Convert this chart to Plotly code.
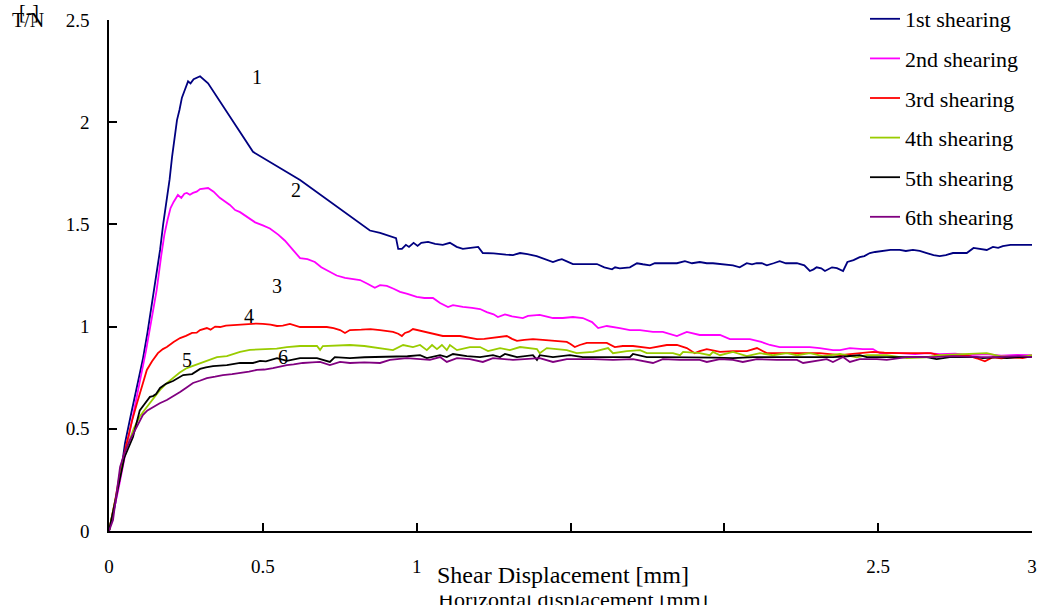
import plotly.graph_objects as go

# Shear stress ratio T/N versus shear displacement for six repeated shearings
x1 = [0, 0.02, 0.04, 0.052, 0.07, 0.09, 0.11, 0.125, 0.14, 0.152, 0.166, 0.176, 0.188, 0.197, 0.205, 0.213,
      0.221, 0.229, 0.237, 0.247, 0.257, 0.265, 0.275, 0.296, 0.322, 0.468, 0.621, 0.848, 0.881, 0.933, 0.940,
      0.952, 0.965, 0.975, 0.99, 1.003, 1.015, 1.037, 1.06, 1.085, 1.108, 1.13, 1.15, 1.175, 1.2, 1.215, 1.25,
      1.29, 1.313, 1.336, 1.36, 1.39, 1.41, 1.443, 1.46, 1.472, 1.49, 1.508, 1.55, 1.586, 1.61, 1.635, 1.645,
      1.66, 1.693, 1.716, 1.735, 1.758, 1.774, 1.81, 1.846, 1.872, 1.895, 1.92, 1.943, 1.963, 2.0, 2.028, 2.05,
      2.073, 2.09, 2.105, 2.122, 2.138, 2.16, 2.18, 2.2, 2.236, 2.26, 2.278, 2.29, 2.30, 2.315, 2.327, 2.35,
      2.366, 2.386, 2.40, 2.42, 2.44, 2.455, 2.473, 2.49, 2.515, 2.54, 2.57, 2.59, 2.613, 2.635, 2.658, 2.68,
      2.70, 2.72, 2.743, 2.765, 2.788, 2.81, 2.83, 2.853, 2.873, 2.89, 2.905, 2.93, 2.95, 3.0]
y1 = [0, 0.13, 0.30, 0.43, 0.56, 0.70, 0.84, 0.97, 1.12, 1.22, 1.375, 1.50, 1.62, 1.72, 1.83, 1.93,
      2.01, 2.06, 2.12, 2.16, 2.20, 2.19, 2.21, 2.225, 2.19, 1.855, 1.717, 1.47, 1.458, 1.433, 1.38,
      1.38, 1.40, 1.39, 1.41, 1.395, 1.41, 1.414, 1.405, 1.40, 1.41, 1.39, 1.38, 1.385, 1.39, 1.36, 1.358,
      1.352, 1.35, 1.36, 1.355, 1.345, 1.335, 1.316, 1.325, 1.33, 1.318, 1.306, 1.306, 1.306, 1.29, 1.28, 1.29,
      1.285, 1.29, 1.31, 1.305, 1.30, 1.31, 1.31, 1.31, 1.32, 1.31, 1.316, 1.31, 1.31, 1.305, 1.30, 1.29,
      1.31, 1.305, 1.31, 1.31, 1.30, 1.31, 1.32, 1.31, 1.31, 1.30, 1.272, 1.28, 1.29, 1.285, 1.272, 1.29,
      1.286, 1.272, 1.316, 1.325, 1.34, 1.345, 1.36, 1.365, 1.37, 1.375, 1.375, 1.37, 1.375, 1.37, 1.36, 1.35,
      1.345, 1.35, 1.36, 1.36, 1.36, 1.385, 1.38, 1.375, 1.39, 1.385, 1.394, 1.40, 1.40, 1.40]

x2 = [0, 0.03, 0.06, 0.09, 0.12, 0.14, 0.155, 0.17, 0.18, 0.19, 0.2, 0.21, 0.224, 0.235, 0.245, 0.253,
      0.263, 0.273, 0.285, 0.296, 0.31, 0.322, 0.34, 0.36, 0.393, 0.41, 0.426, 0.45, 0.475, 0.5, 0.523, 0.55,
      0.572, 0.595, 0.621, 0.645, 0.669, 0.69, 0.718, 0.74, 0.767, 0.79, 0.816, 0.84, 0.864, 0.881, 0.903,
      0.925, 0.946, 0.97, 1.0, 1.025, 1.053, 1.076, 1.102, 1.118, 1.15, 1.18, 1.206, 1.228, 1.25, 1.264,
      1.287, 1.31, 1.345, 1.362, 1.40, 1.42, 1.443, 1.475, 1.508, 1.54, 1.57, 1.59, 1.618, 1.66, 1.693, 1.726,
      1.768, 1.80, 1.846, 1.878, 1.92, 1.986, 2.018, 2.083, 2.12, 2.148, 2.18, 2.23, 2.278, 2.31, 2.353,
      2.376, 2.408, 2.45, 2.483, 2.506, 2.57, 2.62, 2.66, 2.7, 2.75, 2.8, 2.85, 2.9, 2.95, 3.0]
y2 = [0, 0.2, 0.43, 0.65, 0.88, 1.05, 1.18, 1.35, 1.45, 1.52, 1.58, 1.61, 1.644, 1.63, 1.65, 1.654,
      1.645, 1.654, 1.66, 1.673, 1.675, 1.678, 1.66, 1.63, 1.595, 1.57, 1.56, 1.535, 1.51, 1.495, 1.48, 1.45,
      1.42, 1.38, 1.335, 1.33, 1.316, 1.29, 1.267, 1.25, 1.238, 1.235, 1.228, 1.21, 1.19, 1.203, 1.199,
      1.185, 1.17, 1.16, 1.145, 1.14, 1.14, 1.115, 1.096, 1.105, 1.096, 1.092, 1.086, 1.071, 1.06, 1.047,
      1.06, 1.05, 1.042, 1.052, 1.057, 1.05, 1.042, 1.042, 1.047, 1.042, 1.022, 0.993, 1.003, 0.993, 0.983, 0.983,
      0.974, 0.974, 0.954, 0.974, 0.959, 0.959, 0.939, 0.939, 0.925, 0.91, 0.90, 0.90, 0.90, 0.895, 0.885,
      0.885, 0.895, 0.89, 0.89, 0.87, 0.87, 0.865, 0.87, 0.865, 0.868, 0.86, 0.865, 0.858, 0.862, 0.86]

x3 = [0, 0.02, 0.04, 0.062, 0.075, 0.09, 0.105, 0.123, 0.14, 0.159, 0.175, 0.188, 0.21, 0.231, 0.25, 0.27,
      0.285, 0.296, 0.318, 0.33, 0.345, 0.361, 0.38, 0.403, 0.43, 0.458, 0.48, 0.50, 0.525, 0.546, 0.565,
      0.588, 0.605, 0.621, 0.663, 0.708, 0.73, 0.751, 0.767, 0.783, 0.82, 0.85, 0.881, 0.923, 0.94, 0.952,
      0.962, 0.975, 0.988, 1.01, 1.033, 1.06, 1.085, 1.141, 1.17, 1.196, 1.22, 1.248, 1.27, 1.293, 1.31,
      1.326, 1.35, 1.378, 1.41, 1.443, 1.488, 1.5, 1.514, 1.53, 1.553, 1.618, 1.63, 1.644, 1.67, 1.703, 1.758,
      1.79, 1.813, 1.846, 1.878, 1.904, 1.92, 1.943, 1.986, 2.028, 2.073, 2.106, 2.138, 2.2, 2.246, 2.31,
      2.376, 2.41, 2.44, 2.483, 2.52, 2.57, 2.671, 2.71, 2.75, 2.788, 2.82, 2.847, 2.873, 2.9, 2.93, 2.97, 3.0]
y3 = [0, 0.15, 0.32, 0.46, 0.54, 0.62, 0.70, 0.788, 0.83, 0.87, 0.89, 0.90, 0.925, 0.944, 0.955, 0.969,
      0.97, 0.983, 0.993, 0.985, 1.0, 0.998, 1.005, 1.008, 1.01, 1.013, 1.015, 1.013, 1.01, 1.003, 1.005,
      1.013, 1.005, 0.998, 0.998, 0.998, 0.993, 0.983, 0.969, 0.983, 0.985, 0.988, 0.983, 0.974, 0.965, 0.954,
      0.969, 0.975, 0.988, 0.98, 0.974, 0.965, 0.954, 0.954, 0.945, 0.939, 0.94, 0.944, 0.95, 0.954, 0.94,
      0.93, 0.935, 0.939, 0.935, 0.93, 0.925, 0.915, 0.90, 0.91, 0.92, 0.92, 0.91, 0.90, 0.905, 0.905, 0.895,
      0.905, 0.91, 0.91, 0.895, 0.87, 0.88, 0.89, 0.876, 0.88, 0.88, 0.895, 0.87, 0.87, 0.87, 0.87,
      0.86, 0.865, 0.87, 0.876, 0.872, 0.87, 0.87, 0.856, 0.86, 0.86, 0.845, 0.83, 0.85, 0.845, 0.85, 0.846, 0.856]

x4 = [0, 0.02, 0.05, 0.08, 0.10, 0.123, 0.145, 0.166, 0.185, 0.208, 0.23, 0.253, 0.275, 0.296, 0.32, 0.351,
      0.383, 0.405, 0.426, 0.458, 0.485, 0.513, 0.545, 0.578, 0.621, 0.676, 0.686, 0.695, 0.74, 0.783, 0.83,
      0.881, 0.923, 0.956, 0.988, 1.011, 1.033, 1.05, 1.066, 1.082, 1.098, 1.108, 1.131, 1.173, 1.206, 1.232,
      1.271, 1.303, 1.336, 1.391, 1.40, 1.423, 1.488, 1.52, 1.573, 1.622, 1.638, 1.683, 1.726, 1.748, 1.79,
      1.833, 1.856, 1.866, 1.92, 1.953, 1.963, 1.986, 2.028, 2.073, 2.116, 2.158, 2.203, 2.236, 2.278, 2.32,
      2.376, 2.43, 2.463, 2.528, 2.593, 2.658, 2.70, 2.788, 2.853, 2.895, 2.96, 3.0]
y4 = [0, 0.15, 0.37, 0.50, 0.56, 0.607, 0.65, 0.69, 0.72, 0.748, 0.775, 0.797, 0.81, 0.822, 0.835, 0.851,
      0.856, 0.868, 0.876, 0.886, 0.887, 0.89, 0.892, 0.90, 0.905, 0.905, 0.886, 0.905, 0.908, 0.91, 0.905,
      0.895, 0.885, 0.91, 0.90, 0.91, 0.885, 0.91, 0.89, 0.91, 0.885, 0.91, 0.885, 0.90, 0.90, 0.88,
      0.895, 0.885, 0.90, 0.89, 0.87, 0.895, 0.885, 0.87, 0.876, 0.895, 0.87, 0.88, 0.885, 0.87, 0.87,
      0.87, 0.86, 0.876, 0.87, 0.86, 0.876, 0.86, 0.876, 0.856, 0.87, 0.86, 0.87, 0.86, 0.87, 0.856,
      0.866, 0.85, 0.86, 0.86, 0.846, 0.85, 0.86, 0.866, 0.87, 0.856, 0.85, 0.86]

x5 = [0, 0.02, 0.05, 0.078, 0.09, 0.10, 0.115, 0.133, 0.143, 0.153, 0.166, 0.185, 0.208, 0.225, 0.241, 0.27,
      0.296, 0.315, 0.338, 0.383, 0.426, 0.468, 0.491, 0.51, 0.546, 0.578, 0.60, 0.621, 0.676, 0.718, 0.734,
      0.783, 0.83, 0.881, 0.936, 0.97, 1.011, 1.033, 1.076, 1.098, 1.118, 1.163, 1.206, 1.248, 1.271, 1.287,
      1.326, 1.378, 1.391, 1.40, 1.443, 1.498, 1.54, 1.596, 1.638, 1.693, 1.703, 1.748, 1.80, 1.856, 1.92,
      1.97, 2.028, 2.093, 2.19, 2.278, 2.353, 2.40, 2.44, 2.463, 2.528, 2.593, 2.658, 2.69, 2.733, 2.82, 2.84,
      2.895, 2.918, 2.96, 3.0]
y5 = [0, 0.14, 0.36, 0.46, 0.53, 0.59, 0.62, 0.656, 0.66, 0.67, 0.70, 0.72, 0.734, 0.75, 0.763, 0.768,
      0.793, 0.80, 0.807, 0.812, 0.822, 0.822, 0.832, 0.83, 0.846, 0.832, 0.84, 0.846, 0.846, 0.827, 0.851,
      0.846, 0.85, 0.851, 0.851, 0.855, 0.86, 0.846, 0.86, 0.851, 0.866, 0.856, 0.851, 0.86, 0.851, 0.866,
      0.851, 0.86, 0.837, 0.86, 0.851, 0.86, 0.851, 0.851, 0.851, 0.851, 0.866, 0.851, 0.851, 0.851, 0.851,
      0.848, 0.846, 0.851, 0.851, 0.851, 0.851, 0.855, 0.86, 0.851, 0.851, 0.851, 0.851, 0.841, 0.851, 0.851, 0.846,
      0.851, 0.846, 0.851, 0.851]

x6 = [0, 0.013, 0.036, 0.05, 0.068, 0.09, 0.11, 0.125, 0.143, 0.165, 0.188, 0.21, 0.231, 0.25, 0.273, 0.295,
      0.318, 0.345, 0.37, 0.4, 0.426, 0.455, 0.481, 0.505, 0.533, 0.555, 0.578, 0.60, 0.63, 0.66, 0.686,
      0.718, 0.751, 0.783, 0.83, 0.881, 0.913, 0.968, 1.011, 1.043, 1.076, 1.098, 1.131, 1.173, 1.215, 1.248,
      1.313, 1.368, 1.40, 1.443, 1.488, 1.573, 1.638, 1.703, 1.768, 1.80, 1.856, 1.92, 1.943, 1.986, 2.028,
      2.06, 2.106, 2.171, 2.236, 2.256, 2.333, 2.353, 2.386, 2.408, 2.44, 2.496, 2.528, 2.593, 2.678, 2.743,
      2.83, 2.895, 2.96, 3.0]
y6 = [0, 0.054, 0.313, 0.38, 0.445, 0.51, 0.567, 0.59, 0.607, 0.625, 0.641, 0.66, 0.68, 0.70, 0.724, 0.735,
      0.748, 0.755, 0.763, 0.768, 0.773, 0.78, 0.788, 0.79, 0.797, 0.805, 0.812, 0.815, 0.822, 0.825, 0.827,
      0.812, 0.827, 0.822, 0.825, 0.822, 0.837, 0.846, 0.841, 0.837, 0.851, 0.827, 0.846, 0.841, 0.827, 0.846,
      0.837, 0.841, 0.846, 0.827, 0.841, 0.841, 0.837, 0.841, 0.822, 0.841, 0.837, 0.837, 0.827, 0.841, 0.837,
      0.827, 0.841, 0.837, 0.837, 0.822, 0.841, 0.827, 0.851, 0.827, 0.841, 0.841, 0.837, 0.851, 0.851, 0.856,
      0.851, 0.851, 0.856, 0.851]

series_names = ["1st shearing", "2nd shearing", "3rd shearing", "4th shearing", "5th shearing", "6th shearing"]
series_colors = ["#000080", "#FF00FF", "#FF0000", "#99CC00", "#000000", "#800080"]

# curve numbers placed next to each curve
curve_labels = ["1", "2", "3", "4", "5", "6"]
label_x = [0.481, 0.608, 0.546, 0.455, 0.254, 0.566]
label_y = [2.221, 1.668, 1.199, 1.052, 0.837, 0.851]

x_ticks = [0, 0.5, 1, 1.5, 2, 2.5, 3]
y_ticks = [0, 0.5, 1, 1.5, 2, 2.5]

SERIF = "Liberation Serif, Times New Roman, serif"
L, R, T, B = 109, 1032, 20, 531  # plot-area edges in pixels


def px_x(p):
    return (p - L) / (R - L)


def px_y(p):
    return (B - p) / (B - T)


fig = go.Figure()
for i, (xs, ys) in enumerate([(x1, y1), (x2, y2), (x3, y3), (x4, y4), (x5, y5), (x6, y6)]):
    fig.add_trace(go.Scatter(
        x=xs, y=ys, mode="lines", name=series_names[i], legendgroup=series_names[i],
        line=dict(color=series_colors[i], width=1.8),
    ))

for t, lx, ly in zip(curve_labels, label_x, label_y):
    fig.add_annotation(x=lx, y=ly, text=t, showarrow=False, xanchor="center", yanchor="middle",
                       font=dict(family=SERIF, size=20, color="#000000"))

# axis labels (overlaid titles); the white box masks the lower layer
fig.add_annotation(xref="paper", yref="paper", x=px_x(573), y=px_y(599),
                   xanchor="center", yanchor="middle",
                   text="Horizontal displacement [mm]", showarrow=False,
                   font=dict(family=SERIF, size=22, color="#000000"))
fig.add_annotation(xref="paper", yref="paper", x=px_x(582), y=px_y(575),
                   xanchor="center", yanchor="middle",
                   text="\u00a0", showarrow=False, width=305, height=40, bgcolor="#FFFFFF",
                   borderpad=0)
fig.add_annotation(xref="paper", yref="paper", x=px_x(563), y=px_y(575),
                   xanchor="center", yanchor="middle",
                   text="Shear Displacement [mm]", showarrow=False,
                   font=dict(family=SERIF, size=24, color="#000000"))
fig.add_annotation(xref="paper", yref="paper", x=px_x(29), y=px_y(12),
                   xanchor="center", yanchor="middle",
                   text="[-]", showarrow=False,
                   font=dict(family=SERIF, size=20, color="#000000"))
fig.add_annotation(xref="paper", yref="paper", x=px_x(28), y=px_y(20),
                   xanchor="center", yanchor="middle",
                   text="T/N", showarrow=False,
                   font=dict(family=SERIF, size=20, color="#000000"))

fig.update_layout(
    width=1040, height=605,
    margin=dict(l=L, r=1040 - R, t=T, b=605 - B, autoexpand=False),
    paper_bgcolor="#FFFFFF", plot_bgcolor="#FFFFFF",
    font=dict(family=SERIF, size=19, color="#000000"),
    showlegend=True,
    legend=dict(
        x=px_x(865), y=px_y(-2), xanchor="left", yanchor="top",
        bgcolor="rgba(0,0,0,0)", font=dict(family=SERIF, size=22, color="#000000"),
        tracegroupgap=8, itemwidth=30,
    ),
    xaxis=dict(
        range=[0, 3], tickvals=x_ticks, ticktext=[str(v) for v in x_ticks],
        showgrid=False, zeroline=False, showline=True, linecolor="#000000", linewidth=1.5,
        ticks="inside", ticklen=8, tickcolor="#000000", tickwidth=1.5, automargin=False,
        ticklabelstandoff=17, tickfont=dict(family=SERIF, size=19),
    ),
    yaxis=dict(
        range=[0, 2.5], tickvals=y_ticks, ticktext=[str(v) for v in y_ticks],
        showgrid=False, zeroline=False, showline=True, linecolor="#000000", linewidth=1.5,
        ticks="inside", ticklen=8, tickcolor="#000000", tickwidth=1.5, automargin=False,
        ticklabelstandoff=14, tickfont=dict(family=SERIF, size=19),
    ),
)

fig.write_html("out.html")
